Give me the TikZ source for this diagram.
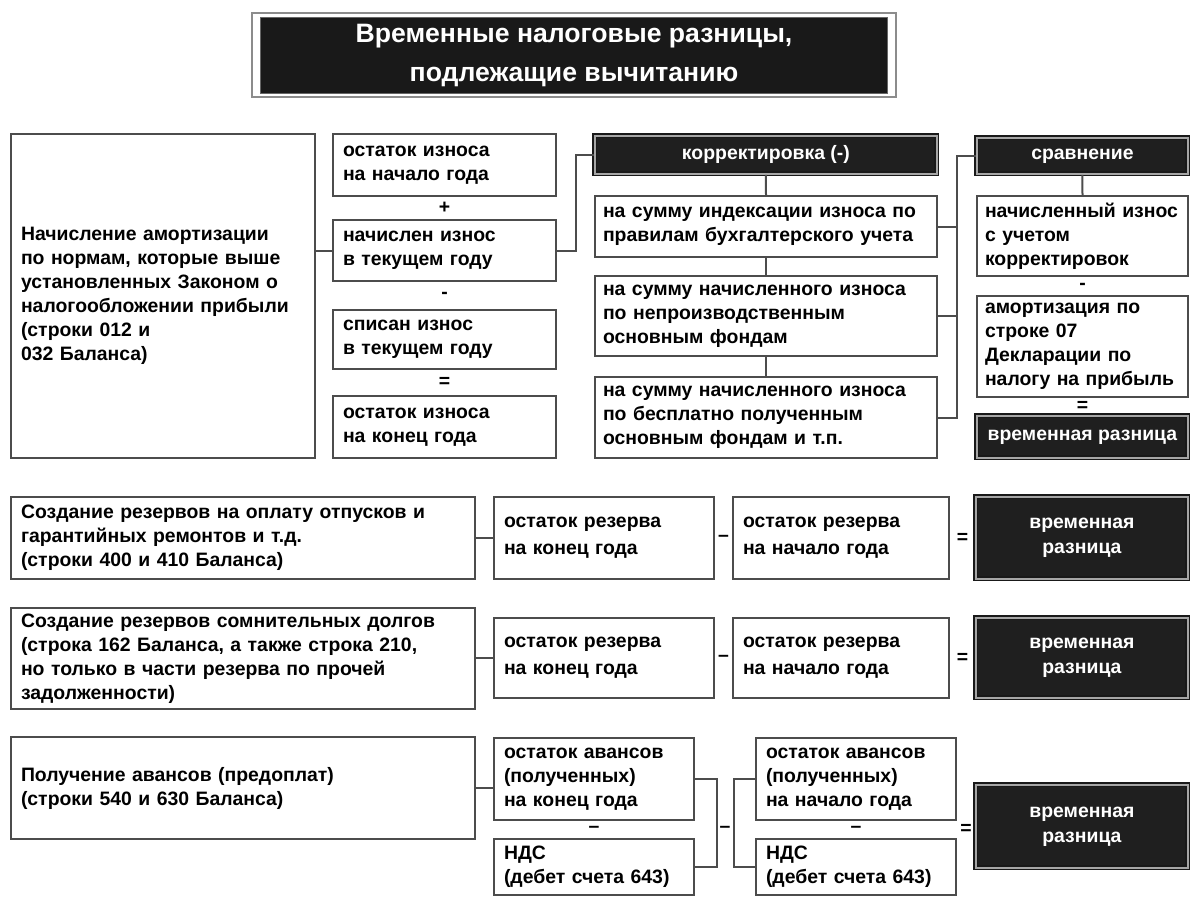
\documentclass[tikz,border=0pt]{standalone}
\usepackage{fontspec}
\setmainfont{Liberation Sans}
\usetikzlibrary{calc}

\tikzset{
  box/.style={draw=black!70, line width=1pt, fill=white, anchor=north west,
    inner xsep=5pt, inner ysep=1pt, align=left,
    font=\fontsize{9.7}{12}\selectfont\bfseries},
  blackbox/.style={draw=black!90, double=black!35, double distance=0.7pt,
    line width=0.9pt, fill=black!88, text=white, anchor=north west,
    inner sep=1pt, align=center, font=\fontsize{9.7}{12.5}\selectfont\bfseries},
  midbox/.style={box, minimum width=111.5pt, text width=101.5pt},
  sumbox/.style={box, minimum width=171pt, text width=163pt, inner xsep=4pt},
  rbox/.style={box, minimum width=105.5pt, text width=97.5pt, inner xsep=4pt},
  leftbox/.style={box, minimum width=232pt, text width=222pt},
  rezbox/.style={box, font=\fontsize{9.7}{13.5}\selectfont\bfseries},
  op/.style={inner sep=0pt, font=\fontsize{9.7}{12}\selectfont\bfseries},
  conn/.style={draw=black!70, line width=1pt},
}

\begin{document}
\begin{tikzpicture}[x=0.5pt, y=-0.5pt]
  \useasboundingbox (0,0) rectangle (1190,896);

  % 1. Заголовок
  \node[draw=black!45, line width=1pt, minimum width=322pt, minimum height=42pt] (frame) at (574,55) {};
  \node[fill=black!90, draw=black!60, text=white, align=center, minimum width=313.5pt, minimum height=33pt,
    font=\fontsize{13.3}{19.5}\selectfont\bfseries] (title) at (frame.center)
    {Временные налоговые разницы,\\подлежащие вычитанию};

  % 2. Амортизация и износ
  \node[box, minimum width=152pt, minimum height=162pt, text width=142pt] (amort) at (10,133)
    {Начисление амортизации\\по нормам, которые выше\\установленных Законом о\\налогообложении~прибыли\\(строки 012 и\\032 Баланса)};
  \node[midbox, minimum height=31pt] (iznos1) at (332,133) {остаток износа\\на начало года};
  \node[midbox, minimum height=30.5pt] (iznos2) at (332,219) {начислен износ\\в текущем году};
  \node[midbox, minimum height=29.5pt] (iznos3) at (332,309) {списан износ\\в текущем году};
  \node[midbox, minimum height=31pt] (iznos4) at (332,395) {остаток износа\\на конец года};
  \node[op] (plus1) at ($(iznos1.south)!.5!(iznos2.north)$) {+};
  \node[op] (minus1) at ($(iznos2.south)!.5!(iznos3.north)$) {-};
  \node[op] (eq1) at ($(iznos3.south)!.5!(iznos4.north)$) {=};

  % 3. Корректировка
  \node[blackbox, minimum width=171pt, minimum height=19pt] (korr) at (594,135) {корректировка (-)};
  \node[sumbox, minimum height=30.5pt] (sum1) at (594,195) {на~сумму~индексации~износа~по\\правилам бухгалтерского учета};
  \node[sumbox, minimum height=40pt] (sum2) at (594,275) {на сумму начисленного износа\\по непроизводственным\\основным фондам};
  \node[sumbox, minimum height=40.5pt] (sum3) at (594,376) {на сумму начисленного износа\\по бесплатно полученным\\основным фондам и т.п.};

  % 4. Сравнение
  \node[blackbox, minimum width=105.5pt, minimum height=18pt] (sravn) at (976,137) {сравнение};
  \node[rbox, minimum height=40pt] (nachisl) at (976,195) {начисленный~износ\\с учетом\\корректировок};
  \node[rbox, minimum height=50.5pt] (deklar) at (976,295) {амортизация~по\\строке 07\\Декларации~по\\налогу~на~прибыль};
  \node[blackbox, minimum width=105.5pt, minimum height=21pt] (razn1) at (976,415) {временная разница};
  \node[op] (minus2) at ($(nachisl.south)!.5!(deklar.north)$) {-};
  \node[op] (eq2) at ($(deklar.south)!.5!(razn1.north)$) {=};

  % связи верхнего блока
  \draw[conn] (iznos2.west) -- (iznos2.west -| amort.east);
  \draw[conn] (iznos2.east) -| ($(iznos2.east)!.5!(iznos2.east -| korr.west)$) |- (korr.west);
  \draw[conn] (korr.south) -- (sum1.north);
  \draw[conn] (sum1.south) -- (sum2.north);
  \draw[conn] (sum2.south) -- (sum3.north);
  \coordinate (bus) at ($(sum3.east)!.5!(sum3.east -| sravn.west)$);
  \draw[conn] (sum1.east) -- (sum1.east -| bus);
  \draw[conn] (sum2.east) -- (sum2.east -| bus);
  \draw[conn] (sum3.east) -| (bus |- sravn.west) -- (sravn.west);
  \draw[conn] (sravn.south) -- (nachisl.north);

  % 5. Резервы отпусков
  \node[leftbox, minimum height=41pt] (otp) at (10,496)
    {Создание резервов на оплату отпусков и\\гарантийных ремонтов и т.д.\\(строки 400 и 410 Баланса)};
  \node[rezbox, minimum width=110pt, text width=100pt, minimum height=41pt] (otp1) at (493,496) {остаток резерва\\на конец года};
  \node[rezbox, minimum width=108pt, text width=98pt, minimum height=41pt] (otp2) at (732,496) {остаток резерва\\на начало года};
  \node[blackbox, minimum width=106pt, minimum height=41pt] (razn2) at (975,496) {временная\\разница};
  \node[op] (minus3) at ($(otp1.east)!.5!(otp2.west)$) {–};
  \node[op] (eq3) at ($(otp2.east)!.5!(razn2.west)$) {=};
  \draw[conn] (otp.east) -- (otp1.west);

  % 6. Сомнительные долги
  \node[leftbox, minimum height=50.5pt] (dolg) at (10,607)
    {Создание резервов сомнительных долгов\\(строка 162 Баланса, а также строка 210,\\но только в части резерва по прочей\\задолженности)};
  \node[rezbox, minimum width=110pt, text width=100pt, minimum height=40pt] (dolg1) at (493,617) {остаток резерва\\на конец года};
  \node[rezbox, minimum width=108pt, text width=98pt, minimum height=40pt] (dolg2) at (732,617) {остаток резерва\\на начало года};
  \node[blackbox, minimum width=106pt, minimum height=40pt] (razn3) at (975,617) {временная\\разница};
  \node[op] (minus4) at ($(dolg1.east)!.5!(dolg2.west)$) {–};
  \node[op] (eq4) at ($(dolg2.east)!.5!(razn3.west)$) {=};
  \draw[conn] (dolg.east |- dolg1.west) -- (dolg1.west);

  % 7. Авансы
  \node[leftbox, minimum height=51pt] (avans) at (10,736)
    {Получение авансов (предоплат)\\(строки 540 и 630 Баланса)};
  \node[box, minimum width=100pt, text width=90pt, minimum height=41pt] (avans1) at (493,737) {остаток авансов\\(полученных)\\на конец года};
  \node[box, minimum width=100pt, text width=90pt, minimum height=28pt] (nds1) at (493,838) {НДС\\(дебет счета 643)};
  \node[box, minimum width=100pt, text width=90pt, minimum height=41pt] (avans2) at (755,737) {остаток авансов\\(полученных)\\на начало года};
  \node[box, minimum width=100pt, text width=90pt, minimum height=28pt] (nds2) at (755,838) {НДС\\(дебет счета 643)};
  \node[blackbox, minimum width=106pt, minimum height=41.5pt] (razn4) at (975,784) {временная\\разница};
  \node[op] (minus5) at ($(avans1.south)!.5!(nds1.north)$) {–};
  \node[op] (minus6) at ($(avans2.south)!.5!(nds2.north)$) {–};
  \node[op] (minus7) at ($(avans1.south east)!.5!(nds2.north west)$) {–};
  \node[op] (eq5) at ($(avans2.south east)!.5!(razn4.west |- nds2.north)$) {=};
  \draw[conn] (avans.east) -- (avans.east -| avans1.west);
  \draw[conn] (avans1.east) -- ++(22,0) |- (nds1.east);
  \draw[conn] (avans2.west) -- ++(-21,0) |- (nds2.west);

\end{tikzpicture}
\end{document}
